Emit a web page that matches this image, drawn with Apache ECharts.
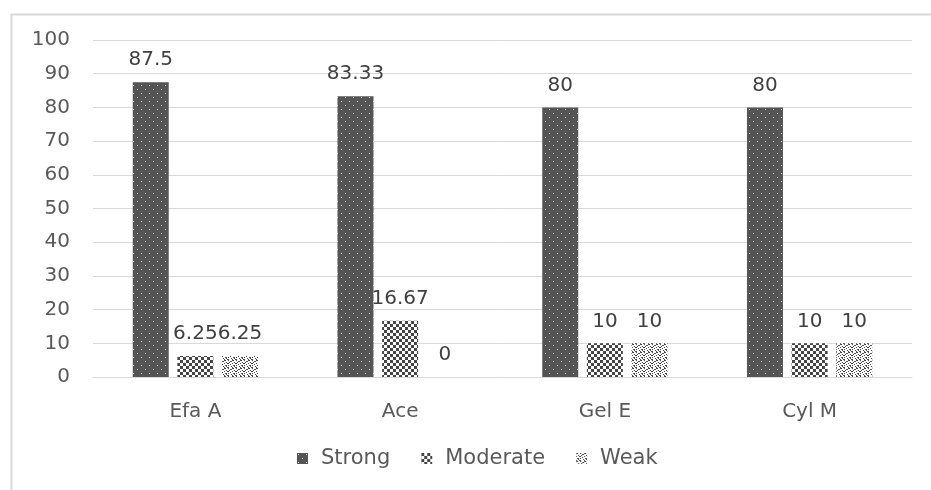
<!DOCTYPE html>
<html>
<head>
<meta charset="utf-8">
<script src="https://cdn.jsdelivr.net/npm/echarts@6/dist/echarts.min.js"></script>
<style>
  html, body { margin: 0; padding: 0; background: #ffffff; }
  #chart { width: 931px; height: 490px; }
</style>
</head>
<body>
<div id="chart"></div>
<script>
// Rating share (%) per product
const categories = ['Efa A', 'Ace', 'Gel E', 'Cyl M'];
const strongValues = [87.5, 83.33, 80, 80];
const moderateValues = [6.25, 16.67, 10, 10];
const weakValues = [6.25, 0, 10, 10];
const yTicks = { min: 0, max: 100, interval: 10 };

const FONT = '"DejaVu Sans", "Open Sans", sans-serif';

// Small repeating tiles used as bar fills
function makeTile(size, bg, fg, cells) {
  const c = document.createElement('canvas');
  c.width = size; c.height = size;
  const ctx = c.getContext('2d');
  ctx.fillStyle = bg;
  ctx.fillRect(0, 0, size, size);
  ctx.fillStyle = fg;
  cells.forEach(([x, y, w, h]) => ctx.fillRect(x, y, w, h));
  return { image: c, repeat: 'repeat' };
}

// dark fill with light dots
const strongFill = makeTile(8, '#555555', '#e6e6e6', [[1, 1, 1, 1], [5, 5, 1, 1]]);
// checkerboard
const moderateFill = makeTile(6, '#ffffff', '#454545', [[0, 0, 3, 3], [3, 3, 3, 3]]);
// grainy dots
const weakFill = makeTile(8, '#ffffff', '#4a4a4a', [
  [0, 0, 2, 1], [4, 0, 1, 1], [6, 1, 2, 1], [2, 2, 1, 1], [3, 3, 2, 1],
  [0, 3, 1, 1], [6, 4, 1, 1], [1, 5, 2, 1], [4, 5, 1, 1], [7, 6, 1, 1],
  [3, 7, 2, 1], [0, 7, 1, 1], [5, 2, 1, 1], [2, 6, 1, 1]
]);

const labelStyle = {
  show: true,
  position: 'top',
  distance: 12,
  color: '#404040',
  fontFamily: FONT,
  fontSize: 20
};

function barSeries(name, data, fill) {
  return {
    name: name,
    type: 'bar',
    data: data,
    barWidth: 36,
    barGap: '24%',
    itemStyle: { color: fill },
    label: labelStyle
  };
}

const chart = echarts.init(document.getElementById('chart'), null, { renderer: 'canvas' });
chart.setOption({
  backgroundColor: '#ffffff',
  animation: false,
  textStyle: { fontFamily: FONT },
  graphic: [{
    type: 'rect',
    left: 9, top: 12,
    shape: { width: 940, height: 500 },
    style: { fill: 'none', stroke: '#d9d9d9', lineWidth: 2 },
    silent: true
  }],
  grid: { left: 93, right: 19, top: 40, bottom: 113, containLabel: false },
  legend: {
    data: ['Strong', 'Moderate', 'Weak'],
    bottom: 16,
    left: 292,
    icon: 'rect',
    itemWidth: 11,
    itemHeight: 11,
    itemGap: 31,
    textStyle: { color: '#595959', fontSize: 21, fontFamily: FONT, padding: [0, 0, 0, 8] }
  },
  xAxis: {
    type: 'category',
    data: categories,
    axisLine: { lineStyle: { color: '#d9d9d9', width: 1 } },
    axisTick: { show: false },
    axisLabel: { color: '#595959', fontSize: 20, margin: 25 }
  },
  yAxis: {
    type: 'value',
    min: yTicks.min,
    max: yTicks.max,
    interval: yTicks.interval,
    axisLine: { show: false },
    axisTick: { show: false },
    splitLine: { lineStyle: { color: '#d9d9d9', width: 1 } },
    axisLabel: { color: '#595959', fontSize: 20, margin: 23 }
  },
  series: [
    barSeries('Strong', strongValues, strongFill),
    barSeries('Moderate', moderateValues, moderateFill),
    barSeries('Weak', weakValues, weakFill)
  ]
});
</script>
</body>
</html>
